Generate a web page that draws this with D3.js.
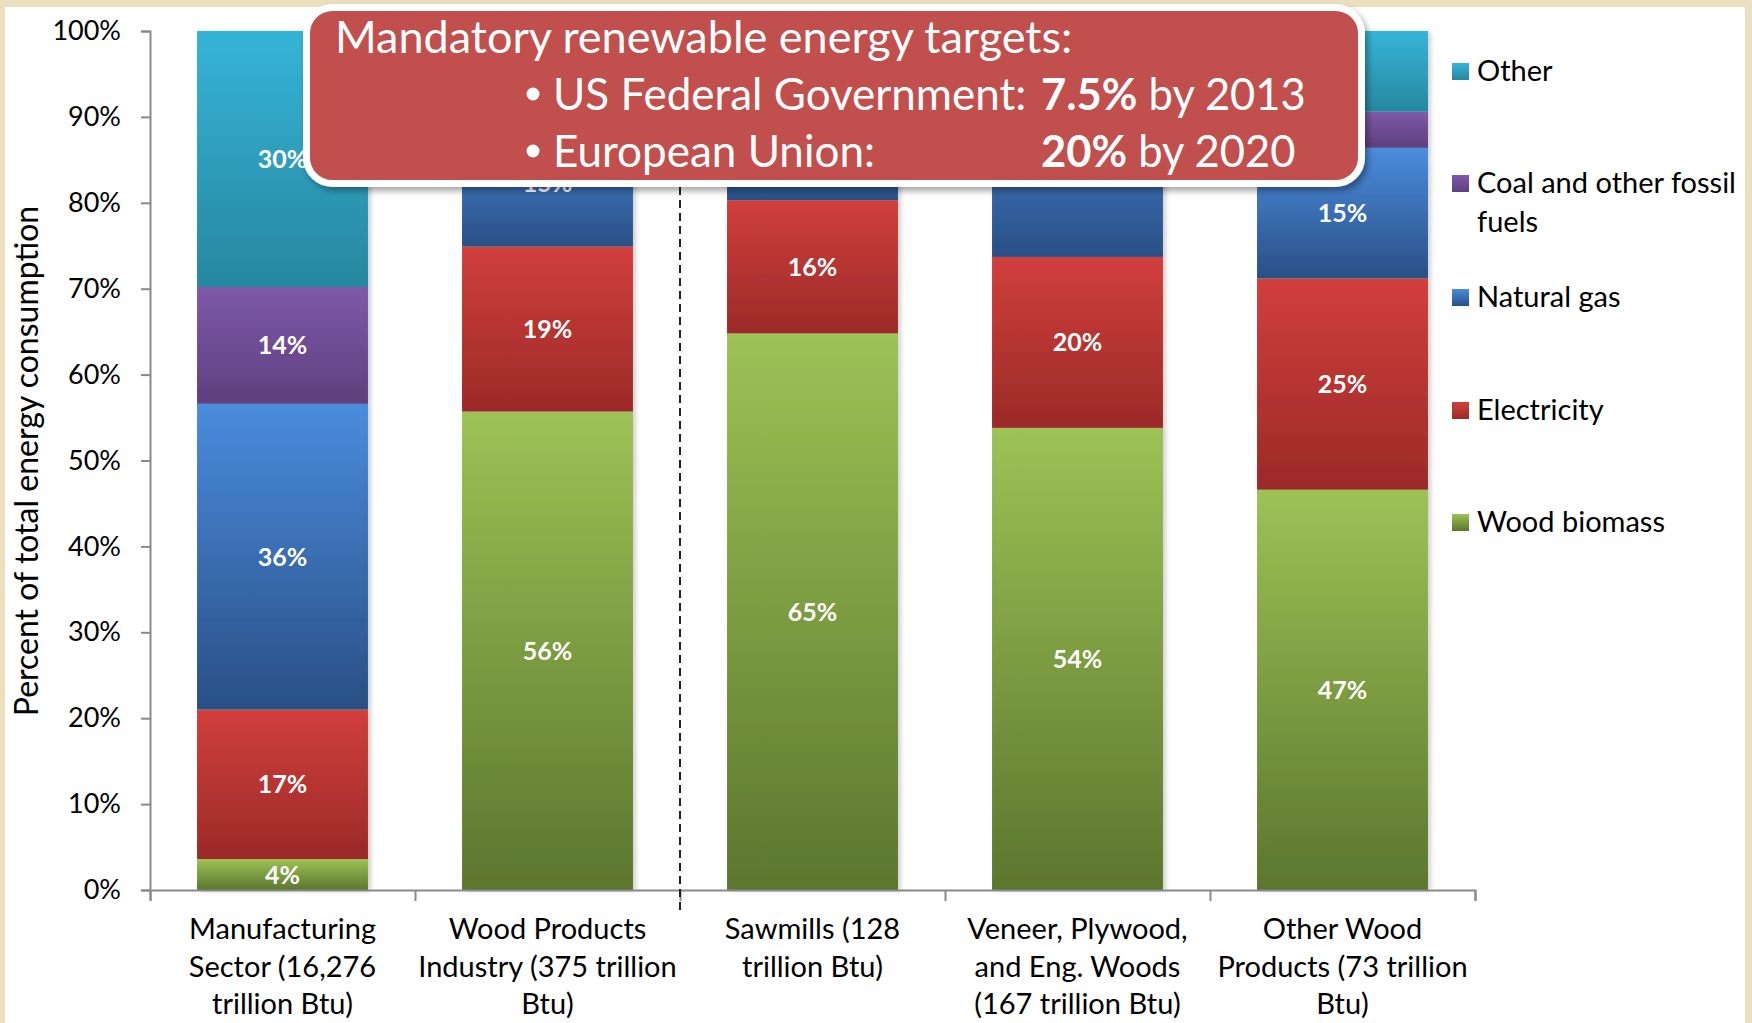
<!DOCTYPE html>
<html>
<head>
<meta charset="utf-8">
<script src="https://cdn.jsdelivr.net/npm/d3@7"></script>
<style>
  body { margin: 0; background: #ebdfc0; }
  svg { display: block; }
</style>
</head>
<body>
<div class="chart"></div>
<script>
// data (percent of total energy use, bottom to top)
var categories = ["Manufacturing Sector", "Wood Products Industry", "Sawmills", "Veneer, Plywood, and Eng. Woods", "Other Wood Products"];
var categoryLines = [
  ["Manufacturing", "Sector (16,276", "trillion Btu)"],
  ["Wood Products", "Industry (375 trillion", "Btu)"],
  ["Sawmills (128", "trillion Btu)"],
  ["Veneer, Plywood,", "and Eng. Woods", "(167 trillion Btu)"],
  ["Other Wood", "Products (73 trillion", "Btu)"]
];
var seriesNames = ["Wood biomass", "Electricity", "Natural gas", "Coal and other fossil fuels", "Other"];
var woodBiomass = [3.6, 55.7, 64.8, 53.8, 46.6];
var electricity = [17.4, 19.2, 15.5, 19.9, 24.6];
var naturalGas  = [35.6, 14.8, 9.0, 21.0, 15.2];
var coalFossil  = [13.6, 1.5, 1.0, 1.0, 4.2];
var otherFuel   = [29.8, 8.8, 9.7, 4.3, 9.4];
var yTicks = [0, 10, 20, 30, 40, 50, 60, 70, 80, 90, 100];

var width = 1752, height = 1023;
var font = "Lato, 'Open Sans', sans-serif";

// top / bottom colours of each series gradient
var colorTop = {"Wood biomass":"#9dc255","Electricity":"#d13f3c","Natural gas":"#4a8cdd","Coal and other fossil fuels":"#7f59a8","Other":"#36b4d8"};
var colorBot = {"Wood biomass":"#5c762e","Electricity":"#9b2a28","Natural gas":"#294f85","Coal and other fossil fuels":"#5d407f","Other":"#27879f"};

var rows = categories.map(function(c, i){
  return {cat: c, "Wood biomass": woodBiomass[i], "Electricity": electricity[i], "Natural gas": naturalGas[i],
          "Coal and other fossil fuels": coalFossil[i], "Other": otherFuel[i]};
});
var stacked = d3.stack().keys(seriesNames)(rows);

var svg = d3.select('.chart').append('svg')
  .attr('width', width).attr('height', height);

var defs = svg.append('defs');
seriesNames.forEach(function(s, i){
  var g = defs.append('linearGradient').attr('id', 'grad' + i)
    .attr('x1', 0).attr('y1', 0).attr('x2', 0).attr('y2', 1);
  g.append('stop').attr('offset', '0%').attr('stop-color', colorTop[s]);
  g.append('stop').attr('offset', '100%').attr('stop-color', colorBot[s]);
});
var sh = defs.append('filter').attr('id', 'barShadow').attr('x', '-10%').attr('width', '125%');
sh.append('feDropShadow').attr('dx', 3).attr('dy', 1).attr('stdDeviation', 2)
  .attr('flood-color', '#000').attr('flood-opacity', 0.18);
var bs = defs.append('filter').attr('id', 'boxShadow').attr('x', '-5%').attr('y', '-10%').attr('width', '115%').attr('height', '130%');
bs.append('feDropShadow').attr('dx', 3).attr('dy', 4).attr('stdDeviation', 3)
  .attr('flood-color', '#000').attr('flood-opacity', 0.35);

// parchment edge + white slide panel
svg.append('rect').attr('width', width).attr('height', height).attr('fill', '#ebdfc0');
svg.append('rect').attr('x', 5).attr('y', 7).attr('width', 1740).attr('height', height).attr('fill', '#fff');

// scales
var x0 = 150, x1 = 1475, yTop = 31, yBot = 890;
var xScale = d3.scaleBand().domain(categories).range([x0, x1]).paddingInner(0.355).paddingOuter(0.1775);
var xEdge = d3.scaleLinear().domain([0, categories.length]).range([x0, x1]);
var yScale = d3.scaleLinear().domain([0, 100]).range([yBot, yTop]);

// callout box area (labels fully under it are not drawn)
var box = {x: 306.5, y: 7.5, w: 1055, h: 176};

// y axis
var yAxis = svg.append('g').attr('transform', 'translate(' + x0 + ',0)')
  .call(d3.axisLeft(yScale).tickValues(yTicks).tickSize(9).tickPadding(20).tickFormat(function(d){ return d + '%'; }));
yAxis.select('.domain').attr('stroke', '#8a8a8a').attr('stroke-width', 2);
yAxis.selectAll('.tick line').attr('stroke', '#8a8a8a').attr('stroke-width', 2);
yAxis.selectAll('.tick text').attr('font-family', font).attr('font-size', 27).attr('fill', '#000');

// bars
var layer = svg.append('g').attr('filter', 'url(#barShadow)');
stacked.forEach(function(ser, si){
  layer.selectAll('rect.s' + si).data(ser).enter().append('rect')
    .attr('class', 's' + si)
    .attr('x', function(d){ return xScale(d.data.cat); })
    .attr('width', xScale.bandwidth())
    .attr('y', function(d){ return yScale(d[1]); })
    .attr('height', function(d){ return yScale(d[0]) - yScale(d[1]); })
    .attr('fill', 'url(#grad' + si + ')');
});

// bar labels
function labelX(d){ return xScale(d.data.cat) + xScale.bandwidth() / 2; }
function labelY(d){ return yScale((d[0] + d[1]) / 2); }
function hiddenByBox(d){
  var lx = labelX(d), ly = labelY(d);
  return lx - 25 > box.x && lx + 25 < box.x + box.w && ly + 12 < box.y + box.h;
}
stacked.forEach(function(ser, si){
  svg.selectAll('text.l' + si)
    .data(ser.filter(function(d){
      return ((d[1] - d[0]) >= 5 || ser.key === 'Wood biomass') && !hiddenByBox(d);
    }))
    .enter().append('text')
    .attr('x', labelX)
    .attr('y', labelY)
    .attr('dy', '0.36em')
    .attr('text-anchor', 'middle')
    .attr('font-family', font).attr('font-weight', 'bold').attr('font-size', 25)
    .attr('fill', '#fff')
    .text(function(d){ return Math.round(d[1] - d[0]) + '%'; });
});

// x axis with ticks between categories
var xAxis = svg.append('g').attr('transform', 'translate(0,' + yBot + ')')
  .call(d3.axisBottom(xEdge).ticks(categories.length).tickSize(11).tickFormat(''));
xAxis.select('.domain').attr('stroke', '#8a8a8a').attr('stroke-width', 2);
xAxis.selectAll('.tick line').attr('stroke', '#8a8a8a').attr('stroke-width', 2);

// category labels
var catG = svg.selectAll('text.cat').data(categories).enter().append('text')
  .attr('class', 'cat')
  .attr('text-anchor', 'middle')
  .attr('font-family', font).attr('font-size', 29).attr('fill', '#000');
catG.each(function(c, i){
  var t = d3.select(this);
  categoryLines[i].forEach(function(line, li){
    t.append('tspan').attr('x', xScale(c) + xScale.bandwidth() / 2)
      .attr('y', 939 + li * 37.5).text(line);
  });
});

// dashed divider between Wood Products and Sawmills
svg.append('line')
  .attr('x1', xEdge(2)).attr('x2', xEdge(2))
  .attr('y1', yTop).attr('y2', 913)
  .attr('stroke', '#222').attr('stroke-width', 2).attr('stroke-dasharray', '8,5');

// y axis title
svg.append('text')
  .attr('transform', 'translate(38,461) rotate(-90)')
  .attr('text-anchor', 'middle')
  .attr('font-family', font).attr('font-size', 32).attr('fill', '#000')
  .text('Percent of total energy consumption');

// legend (top series first)
var legendOrder = seriesNames.slice().reverse();
var legendY = [81, 193, 307, 420, 532];
var leg = svg.selectAll('g.leg').data(legendOrder).enter().append('g')
  .attr('transform', function(d, i){ return 'translate(1452,' + legendY[i] + ')'; });
leg.append('rect').attr('x', 0).attr('y', -18).attr('width', 17).attr('height', 17)
  .attr('fill', function(d){ return 'url(#grad' + seriesNames.indexOf(d) + ')'; });
leg.append('text').attr('x', 25).attr('y', 0)
  .attr('font-family', font).attr('font-size', 29).attr('fill', '#000')
  .each(function(d){
    var t = d3.select(this);
    if (d === 'Coal and other fossil fuels') {
      t.append('tspan').attr('x', 25).attr('y', 0).text('Coal and other fossil');
      t.append('tspan').attr('x', 25).attr('y', 39).text('fuels');
    } else {
      t.text(d);
    }
  });

// callout box
var boxG = svg.append('g');
boxG.append('rect').attr('x', box.x).attr('y', box.y).attr('width', box.w).attr('height', box.h)
  .attr('rx', 26).attr('fill', '#c0504d').attr('stroke', '#fff').attr('stroke-width', 7)
  .attr('filter', 'url(#boxShadow)');
function boxText(xp, yp, size){
  return boxG.append('text').attr('x', xp).attr('y', yp)
    .attr('font-family', font).attr('fill', '#fff').attr('font-size', size);
}
boxText(335, 53, 45).text('Mandatory renewable energy targets:');
boxG.append('circle').attr('cx', 533).attr('cy', 94).attr('r', 6.5).attr('fill', '#fff');
boxG.append('circle').attr('cx', 533).attr('cy', 151).attr('r', 6.5).attr('fill', '#fff');
boxText(553, 110, 44).text('US Federal Government:');
var t2 = boxText(1041, 110, 43.5);
t2.append('tspan').attr('font-weight', 'bold').text('7.5%');
t2.append('tspan').text(' by 2013');
boxText(553, 167, 44).text('European Union:');
var t3 = boxText(1041, 167, 43.5);
t3.append('tspan').attr('font-weight', 'bold').text('20%');
t3.append('tspan').text(' by 2020');
</script>
</body>
</html>
